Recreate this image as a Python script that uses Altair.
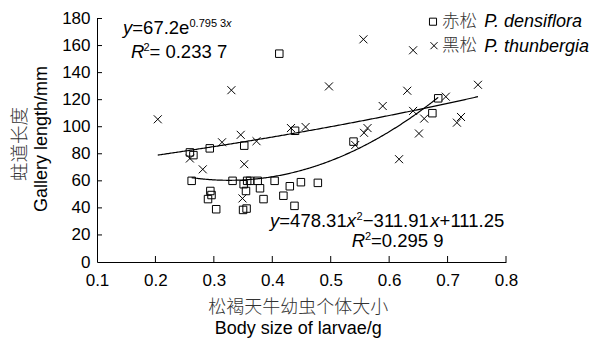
import altair as alt
import pandas as pd

# ---- data ----
# 赤松 P. densiflora (open squares)
dens_x = [0.259, 0.265, 0.293, 0.352, 0.439, 0.412, 0.539, 0.684, 0.674,
          0.262, 0.332, 0.351, 0.357, 0.362, 0.375, 0.404, 0.379, 0.430, 0.449, 0.478,
          0.294, 0.296, 0.290, 0.304, 0.355, 0.385, 0.419, 0.438, 0.350, 0.356]
dens_y = [81, 79, 84, 86, 97, 154, 89, 121, 110,
          60, 60, 57.5, 60, 60, 60, 60, 54.5, 56, 59, 58.5,
          52.5, 49.5, 46.5, 39, 52.5, 46.5, 49, 41.5, 38.5, 39.5]
# 黑松 P. thunbergia (crosses)
thun_x = [0.204, 0.259, 0.281, 0.314, 0.330, 0.346, 0.352, 0.349, 0.373, 0.432, 0.457, 0.497,
          0.542, 0.557, 0.563, 0.556, 0.589, 0.617, 0.631, 0.641, 0.641, 0.651, 0.660,
          0.697, 0.716, 0.723, 0.752]
thun_y = [105.5, 76.5, 68.5, 88.5, 127, 94, 72.3, 47, 89.3, 99, 99.8, 129.8,
          86.5, 95.5, 99, 164.6, 115.3, 76, 126.6, 156.5, 111.7, 95, 106,
          122.2, 103, 107.2, 131]
# fitted curves as printed in the chart
exp_coef = [67.2, 0.7953]            # y = a * e^(b x)
poly_coef = [478.31, -311.91, 111.25]  # y = a x^2 + b x + c

x_ticks = [0.1, 0.2, 0.3, 0.4, 0.5, 0.6, 0.7, 0.8]
y_ticks = [0, 20, 40, 60, 80, 100, 120, 140, 160, 180]

# ---- layout ----
W, H = 409, 243.5
OX, OY = 97, 18.5          # page position of plot origin
LAT = "Liberation Sans"
CJK = "Noto Sans CJK SC"

xs = alt.Scale(domain=[0.1, 0.8], nice=False, zero=False)
ys = alt.Scale(domain=[0, 180], nice=False)

dens = pd.DataFrame({"x": dens_x, "y": dens_y})
thun = pd.DataFrame({"x": thun_x, "y": thun_y})

X_AX = alt.Axis(values=x_ticks, format=".1f", title=None, ticks=False, tickSize=0,
                labelPadding=10, grid=False, labelFlush=False, labelOverlap=False,
                labelFont=LAT, labelFontSize=17, labelColor="black",
                domainColor="black", domainWidth=1)
Y_AX = alt.Axis(values=y_ticks, format="d", title=None, ticks=False, tickSize=0,
                labelPadding=7, grid=False, labelFlush=False, labelOverlap=False,
                labelFont=LAT, labelFontSize=17, labelColor="black",
                domainColor="black", domainWidth=1)


def X(f):
    return alt.X(f, scale=xs, axis=X_AX, title=None)


def Y(f):
    return alt.Y(f, scale=ys, axis=Y_AX, title=None)


CROSS = "M-1,-1L1,1M-1,1L1,-1"

pts_d = alt.Chart(dens).mark_point(shape="square", filled=False, size=56,
                                   color="black", strokeWidth=1, opacity=1).encode(
    x=X("x:Q"), y=Y("y:Q"))
pts_t = alt.Chart(thun).mark_point(shape=CROSS, filled=False, size=64,
                                   color="black", strokeWidth=1, opacity=1).encode(
    x=X("x:Q"), y=Y("y:Q"))

exp_curve = alt.Chart(alt.sequence(min(thun_x), max(thun_x) + 0.001, 0.002, as_="x")).transform_calculate(
    y=f"{exp_coef[0]} * exp({exp_coef[1]} * datum.x)"
).mark_line(color="black", strokeWidth=1.2).encode(x=X("x:Q"), y=Y("y:Q"))
poly_curve = alt.Chart(alt.sequence(0.262, max(dens_x) + 0.001, 0.002, as_="x")).transform_calculate(
    y=f"{poly_coef[0]} * datum.x * datum.x + ({poly_coef[1]}) * datum.x + {poly_coef[2]}"
).mark_line(color="black", strokeWidth=1.2).encode(x=X("x:Q"), y=Y("y:Q"))

xt = alt.Chart(pd.DataFrame({"x": x_ticks[1:]})).mark_rule(color="black", strokeWidth=1).encode(
    x=X("x:Q"), y=alt.value(H), y2=alt.value(H - 6))
yt = alt.Chart(pd.DataFrame({"y": y_ticks[1:]})).mark_rule(color="black", strokeWidth=1).encode(
    y=Y("y:Q"), x=alt.value(0), x2=alt.value(5))

one = alt.Data(values=[{"k": 0}])


def txt(s, px, py, size=18.5, style="normal", font=LAT, align="left",
        baseline="alphabetic", angle=0, color="black", weight="normal"):
    return alt.Chart(one).mark_text(text=s, font=font, fontSize=size, fontStyle=style,
                                    align=align, baseline=baseline, angle=angle,
                                    color=color, fontWeight=weight).encode(
        x=alt.value(px - OX), y=alt.value(py - OY))


def sym(shape, px, py, size):
    return alt.Chart(one).mark_point(shape=shape, filled=False, size=size, color="black",
                                     strokeWidth=1, opacity=1).encode(
        x=alt.value(px - OX), y=alt.value(py - OY))


texts = [
    # exponential equation
    txt("y", 123, 34, style="italic"),
    txt("=67.2e", 132.3, 34),
    txt("0.795 3", 189.5, 27, size=11),
    txt("x", 226, 27, size=11, style="italic"),
    txt("R", 131, 58, style="italic"),
    txt("2", 143.5, 51, size=11),
    txt("= 0.233 7", 149.5, 58),
    # quadratic equation
    txt("y", 270, 227, style="italic"),
    txt("=478.31", 279.3, 227),
    txt("x", 346.7, 227, style="italic"),
    txt("2", 356.5, 220, size=11),
    txt("\u2212311.91", 362.8, 227),
    txt("x", 430.3, 227, style="italic"),
    txt("+111.25", 439.6, 227),
    txt("R", 351.7, 246.5, style="italic"),
    txt("2", 365, 239.5, size=11),
    txt("=0.295 9", 371, 246.5),
    # legend
    sym("square", 433, 21.7, 50),
    txt("赤松", 442, 21.5, size=17.5, font=CJK, baseline="middle", color="#333", weight=300),
    txt("P. densiflora", 484.3, 27, size=18, style="italic"),
    sym(CROSS, 434, 45.7, 50),
    txt("黑松", 442, 45.5, size=17.5, font=CJK, baseline="middle", color="#333", weight=300),
    txt("P. thunbergia", 484.3, 51.5, size=18, style="italic"),
    # axis titles
    txt("松褐天牛幼虫个体大小", 298.3, 308, size=18, font=CJK, align="center",
        baseline="middle", color="#333", weight=300),
    txt("Body size of larvae/g", 298.3, 334, size=18, align="center"),
    txt("蛀道长度", 19.5, 181, size=18.5, font=CJK, align="left",
        baseline="middle", angle=270, color="#333", weight=300),
    txt("Gallery length/mm", 46.5, 139, size=18, align="center", angle=270),
]

chart = alt.layer(pts_d, pts_t, exp_curve, poly_curve, xt, yt, *texts).properties(
    width=W, height=H,
    autosize=alt.AutoSizeParams(type="none"),
    padding={"left": OX - 8, "top": OY - 8, "right": 88, "bottom": 76},
    background="white",
).configure_view(stroke=None)

chart.save("out.html", embed_options={"renderer": "svg", "actions": False})
